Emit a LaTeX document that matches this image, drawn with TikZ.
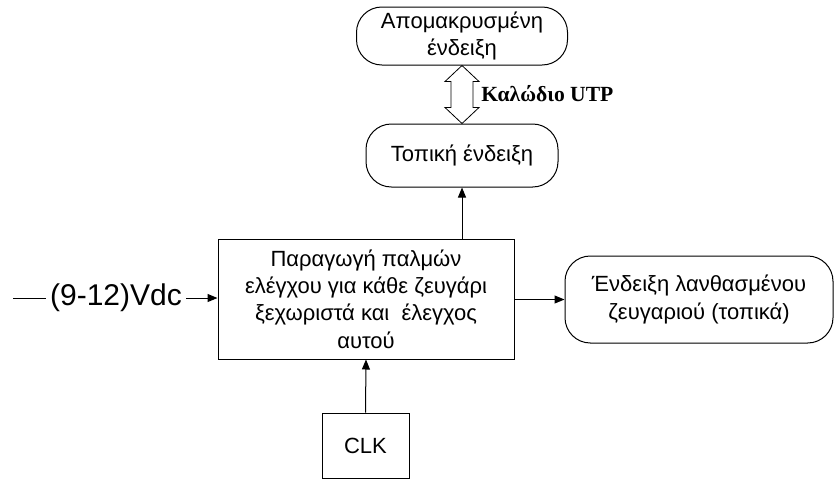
\documentclass[tikz,border=0pt]{standalone}
\usepackage{fontspec}
\setmainfont{Liberation Sans}
\newfontfamily\cablefont{Liberation Serif}
\usetikzlibrary{arrows.meta, calc}
\tikzset{
    box/.style={
        draw=black,
        fill=white,
        line width=0.75pt,
        align=center,
        font=\fontsize{16.5}{20.5}\selectfont,
        inner sep=0pt
    },
    roundbox/.style={
        box,
        rounded corners=19pt
    },
    arrow/.style={
        -{Triangle[length=7.5pt, width=6pt]},
        line width=0.75pt,
        black
    },
    cable/.style={
        draw=black,
        fill=white,
        line width=0.6pt
    }
}

\begin{document}
\begin{tikzpicture}[x=0.75pt, y=-0.75pt]
        \useasboundingbox (0,0) rectangle (835,479);

        % Boxes
        \node[roundbox, minimum width=158.25pt, minimum height=43.5pt] (remote) at (462,36) {Απομακρυσμένη\\ένδειξη};
        \node[roundbox, minimum width=144pt, minimum height=47.25pt] (local) at (462,155.5) {Τοπική ένδειξη};
        \node[box, minimum width=222pt, minimum height=90pt] (main) at (366,299) {
            Παραγωγή παλμών\\
            ελέγχου για κάθε ζευγάρι\\
            ξεχωριστά και~ έλεγχος\\
            αυτού
        };
        \node[roundbox, minimum width=201pt, minimum height=65.25pt] (fault) at (699,299.5) {Ένδειξη λανθασμένου\\ζευγαριού (τοπικά)};
        \node[box, minimum width=65.25pt, minimum height=48.75pt] (clk) at (365.5,445.5) {CLK};

        % Supply input
        \node[font=\fontsize{22.5}{24}\selectfont, inner sep=3pt] (vin) at (116,298) {(9-12)Vdc};
        \coordinate (src) at (13,298);
        \draw[line width=0.75pt] (src) -- (vin.west);
        \draw[arrow] (vin.east) -- (vin.east -| main.west);

        % Arrows
        \draw[arrow] (local.south |- main.north) -- (local.south);
        \draw[arrow] (main.east |- fault.west) -- (fault.west);
        \draw[arrow] (clk.north) -- (main.south);

        % UTP cable
        \draw[cable] (remote.south) -- ++(17,16) -- ++(-6,0) -- ($(local.north)+(11,-16)$) -- ++(6,0)
            -- (local.north) -- ++(-17,-16) -- ++(6,0) -- ($(remote.south)+(-11,16)$) -- ++(-6,0) -- cycle;
        \node[anchor=west, font=\cablefont\bfseries\fontsize{16.2}{18}\selectfont, inner sep=0pt] (utp) at (481,94) {Καλώδιο UTP};
    \end{tikzpicture}
\end{document}
